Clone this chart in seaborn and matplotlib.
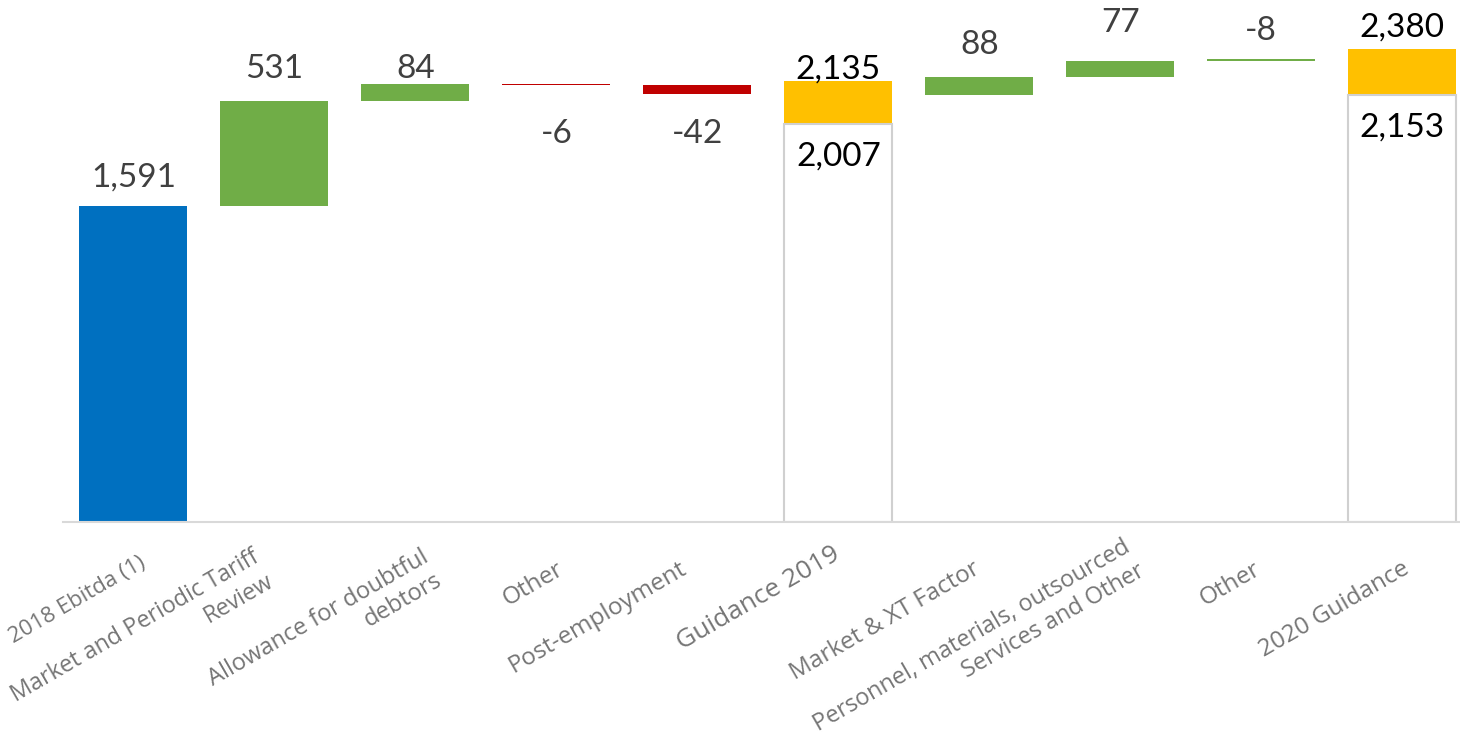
import numpy as np
import pandas as pd
import matplotlib
matplotlib.use('Agg')
import matplotlib.pyplot as plt
import matplotlib.transforms as mtrans
import seaborn as sns

# waterfall steps, values
labels = ['2018 Ebitda (1)', 'Market and Periodic Tariff\nReview', 'Allowance for doubtful\ndebtors',
          'Other', 'Post-employment', 'Guidance 2019', 'Market & XT Factor',
          'Personnel, materials, outsourced\nServices and Other', 'Other', '2020 Guidance']
bar_bottom = [0, 1591, 2122, 2200, 2158, 2007, 2153, 2242, 2323, 2153]
bar_top = [1591, 2122, 2206, 2206, 2200, 2222, 2244, 2321, 2331, 2385]
value_labels = [1591, 531, 84, -6, -42, 2135, 88, 77, -8, 2380]
base_labels = {5: 2007, 9: 2153}

colors = ['#0070C0', '#70AD47', '#70AD47', '#C00000', '#C00000',
          '#FFC000', '#70AD47', '#70AD47', '#70AD47', '#FFC000']
label_side = ['above', 'above', 'above', 'below', 'below', 'above', 'above', 'above', 'above', 'above']
label_gap = [14, 16, 4, 24, 18, 2, 16, 21, 14, 9]  # points
tick_size = [16, 16.8, 17, 17.5, 17.5, 19, 17.5, 16.9, 17.5, 17.5]
# small nudges (points) so the slanted labels sit like the original
tick_dx = [8, -7, 13, 4, -9, 0, -1, 11, -2, 4]
tick_dy = [4, 0, 0, 0, 0, 11, 0, 7, 0, 0]

df = pd.DataFrame({'step': ['s%d' % i for i in range(10)], 'top': bar_top, 'bottom': bar_bottom})
pal = dict(zip(df['step'], colors))

fig = plt.figure(figsize=(14.6, 7.32), dpi=100)
ax = fig.add_axes([63 / 1460, 210.5 / 732, 1397 / 1460, 521.5 / 732])

sns.barplot(data=df, x='step', y='top', hue='step', palette=pal, width=0.766,
            saturation=1, legend=False, dodge=False, ax=ax)
# white bars hide the part below each floating step
sns.barplot(data=df, x='step', y='bottom', color='white', width=0.766,
            saturation=1, ax=ax)
for i in base_labels:
    p = ax.patches[10 + i]
    p.set_edgecolor('#d0d0d0')
    p.set_linewidth(1.5)

ax.set_xlim(-0.5, 9.41)
ax.set_ylim(0, 521.5 / (315.5 / 1591))
ax.set_xlabel('')
ax.set_ylabel('')
ax.set_yticks([])
for s in ['top', 'right', 'left']:
    ax.spines[s].set_visible(False)
ax.spines['bottom'].set_color('#d9d9d9')
ax.spines['bottom'].set_linewidth(1.5)

# value labels
for i, v in enumerate(value_labels):
    col = 'black' if i in base_labels else '#404040'
    if label_side[i] == 'above':
        ax.annotate(f'{v:,}', (i, bar_top[i]), xytext=(0, label_gap[i]), textcoords='offset points',
                    ha='center', va='baseline', fontsize=24, color=col, family='Lato')
    else:
        ax.annotate(f'{v:,}', (i, bar_bottom[i]), xytext=(0, -label_gap[i]), textcoords='offset points',
                    ha='center', va='top', fontsize=24, color=col, family='Lato')
for i, v in base_labels.items():
    ax.annotate(f'{v:,}', (i, bar_bottom[i]), xytext=(0, -13), textcoords='offset points',
                ha='center', va='top', fontsize=24, color='black', family='Lato')

ax.set_xticks(range(10))
ax.set_xticklabels(labels, rotation=30, ha='right', va='center', rotation_mode='anchor',
                   multialignment='right', color='#757575', family='Open Sans')
ax.tick_params(axis='x', length=0, pad=33)
for t, fs, dx, dy in zip(ax.get_xticklabels(), tick_size, tick_dx, tick_dy):
    t.set_fontsize(fs)
    t.set_transform(t.get_transform() + mtrans.ScaledTranslation(dx / 72, dy / 72, fig.dpi_scale_trans))

fig.savefig('out.png', dpi=100)
